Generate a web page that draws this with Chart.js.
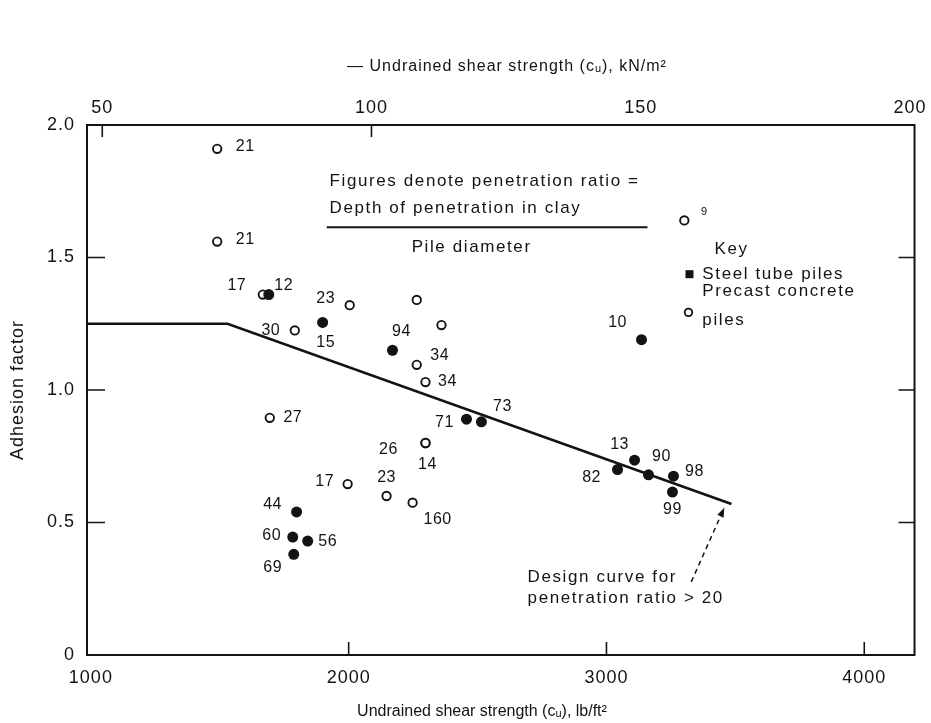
<!DOCTYPE html>
<html>
<head>
<meta charset="utf-8">
<script src="https://cdn.jsdelivr.net/npm/chart.js@4.4.1/dist/chart.umd.min.js"></script>
<style>
  html, body { margin: 0; padding: 0; background: #ffffff; }
  #wrap { width: 931px; height: 723px; }
</style>
</head>
<body>
<div id="wrap"><canvas id="c" width="931" height="723"></canvas></div>
<script>
// Adhesion factor against undrained shear strength for driven piles in clay.
// Steel tube piles (filled) and precast concrete piles (open), each tagged
// with its penetration ratio.

const steelX = [1690, 1899, 2170, 2457, 2515, 3136, 1798, 1783, 1841, 1787, 3043, 3109, 3163, 3260, 3256];
const steelY = [1.36, 1.255, 1.15, 0.89, 0.88, 1.19, 0.54, 0.445, 0.43, 0.38, 0.70, 0.735, 0.68, 0.675, 0.615];
const steelRatio = ['12', '15', '94', '71', '73', '10', '44', '60', '56', '69', '82', '13', '90', '98', '99'];

const precastX = [1490, 1490, 1667, 1791, 2004, 2264, 2360, 2264, 2298, 3302, 2298, 2298, 1996, 2147, 2248, 1694];
const precastY = [1.91, 1.56, 1.36, 1.225, 1.32, 1.34, 1.245, 1.095, 1.03, 1.64, 0.80, 0.80, 0.645, 0.60, 0.575, 0.895];
const precastRatio = ['21', '21', '17', '30', '23', '', '', '34', '34', '9', '26', '14', '17', '23', '160', '27'];

// Design curve for penetration ratio > 20
const curveX = [985, 1530, 3485];
const curveY = [1.25, 1.25, 0.57];

// Axis ticks
const lbTicks = [1000, 2000, 3000, 4000];
const knTicks = [50, 100, 150, 200];
const yTicks = [0, 0.5, 1.0, 1.5, 2.0];
const LB_PER_KN = 20.885;   // 1 kN/m² in lb/ft²
const X_MIN = 985, X_MAX = 4195;

// Where each ratio label sits relative to its marker (px)
const steelLabelShift = [[15,-9],[3,20],[9,-19],[-22,3],[21,-15],[-24,-17],[-24,-7],[-21,-1],[20,1],[-21,13],[-26,8],[-15,-16],[13,-18],[21,-5],[0,18]];
const precastLabelShift = [[28,-2],[28,-2],[-26,-9],[-24,0],[-24,-7],[0,0],[0,0],[23,-9],[22,0],[20,-8],[-37,7],[2,22],[-23,-2],[0,-18],[25,17],[23,0]];
const smallLabels = new Set(['9']);

const INK = '#131313';
const FONT = '"Liberation Sans", Arial, Helvetica, sans-serif';

const pts = (xs, ys) => xs.map((x, i) => ({ x: x, y: ys[i] }));

// slightly tracked lettering for the axis numbers
const tracking = {
  id: 'tracking',
  beforeDraw(chart) { chart.ctx.letterSpacing = '1px'; }
};

const ratioLabels = {
  id: 'ratioLabels',
  afterDatasetsDraw(chart) {
    const ctx = chart.ctx;
    ctx.save();
    ctx.letterSpacing = '0.5px';
    ctx.fillStyle = INK;
    ctx.textAlign = 'center';
    ctx.textBaseline = 'middle';
    const sets = [[1, steelRatio, steelLabelShift], [2, precastRatio, precastLabelShift]];
    sets.forEach(([di, labels, shifts]) => {
      const meta = chart.getDatasetMeta(di);
      meta.data.forEach((el, i) => {
        const t = labels[i];
        if (!t) return;
        ctx.font = (smallLabels.has(t) ? '11px ' : '16px ') + FONT;
        ctx.fillText(t, el.x + shifts[i][0], el.y + shifts[i][1]);
      });
    });
    ctx.restore();
  }
};

const frameAndNotes = {
  id: 'frameAndNotes',
  afterDraw(chart) {
    const ctx = chart.ctx;
    const xs = chart.scales.x, ys = chart.scales.y, ks = chart.scales.x2;
    const a = chart.chartArea;
    const P = (xv, yv) => [xs.getPixelForValue(xv), ys.getPixelForValue(yv)];
    ctx.save();
    ctx.strokeStyle = INK;
    ctx.fillStyle = INK;

    // frame
    ctx.lineWidth = 2;
    ctx.strokeRect(a.left, a.top, a.right - a.left, a.bottom - a.top);

    // inward tick marks
    ctx.lineWidth = 1.6;
    ctx.beginPath();
    lbTicks.slice(1).forEach(v => {
      const px = xs.getPixelForValue(v);
      ctx.moveTo(px, a.bottom); ctx.lineTo(px, a.bottom - 13);
    });
    knTicks.slice(0, 2).forEach(v => {
      const px = ks.getPixelForValue(v);
      ctx.moveTo(px, a.top); ctx.lineTo(px, a.top + 12);
    });
    yTicks.slice(1, 4).forEach(v => {
      const py = ys.getPixelForValue(v);
      ctx.moveTo(a.left, py); ctx.lineTo(a.left + 18, py);
      ctx.moveTo(a.right, py); ctx.lineTo(a.right - 16, py);
    });
    ctx.stroke();

    // axis titles
    ctx.textBaseline = 'middle';
    ctx.textAlign = 'center';
    ctx.font = '16px ' + FONT;
    ctx.letterSpacing = '0px';
    ctx.fillText('Undrained shear strength (cᵤ), lb/ft²', a.left + 395, a.bottom + 57);
    ctx.letterSpacing = '1px';
    ctx.fillText('— Undrained shear strength (cᵤ), kN/m²', a.left + 420, a.top - 58);
    ctx.save();
    ctx.font = '18px ' + FONT;
    ctx.translate(a.left - 69, (a.top + a.bottom) / 2);
    ctx.rotate(-Math.PI / 2);
    ctx.fillText('Adhesion factor', 0, 0);
    ctx.restore();

    // penetration ratio definition
    ctx.font = '17px ' + FONT;
    ctx.letterSpacing = '1.6px';
    ctx.textAlign = 'left';
    let p = P(1926, 1.788); ctx.fillText('Figures denote penetration ratio =', p[0], p[1]);
    p = P(1926, 1.686); ctx.fillText('Depth of penetration in clay', p[0], p[1]);
    const l0 = P(1915, 1.614), l1 = P(3159, 1.614);
    ctx.lineWidth = 2;
    ctx.beginPath(); ctx.moveTo(l0[0], l0[1]); ctx.lineTo(l1[0], l1[1]); ctx.stroke();
    ctx.textAlign = 'center';
    p = P(2477, 1.539); ctx.fillText('Pile diameter', p[0], p[1]);

    // key
    ctx.textAlign = 'left';
    p = P(3419, 1.531); ctx.fillText('Key', p[0], p[1]);
    p = P(3322, 1.437); ctx.fillRect(p[0] - 4, p[1] - 4, 8, 8);
    p = P(3372, 1.437); ctx.fillText('Steel tube piles', p[0], p[1]);
    p = P(3372, 1.372); ctx.fillText('Precast concrete', p[0], p[1]);
    p = P(3318, 1.293);
    ctx.lineWidth = 1.8;
    ctx.beginPath(); ctx.arc(p[0], p[1], 3.8, 0, Math.PI * 2); ctx.stroke();
    p = P(3372, 1.263); ctx.fillText('piles', p[0], p[1]);

    // design curve note with dashed arrow
    p = P(2694, 0.295); ctx.fillText('Design curve for', p[0], p[1]);
    p = P(2694, 0.215); ctx.fillText('penetration ratio > 20', p[0], p[1]);
    const s = P(3329, 0.276), e = P(3457, 0.556);
    ctx.lineWidth = 1.5;
    ctx.setLineDash([5, 4]);
    ctx.beginPath(); ctx.moveTo(s[0], s[1]); ctx.lineTo(e[0], e[1]); ctx.stroke();
    ctx.setLineDash([]);
    const ang = Math.atan2(e[1] - s[1], e[0] - s[0]);
    ctx.beginPath();
    ctx.moveTo(e[0], e[1]);
    ctx.lineTo(e[0] - 10 * Math.cos(ang - 0.35), e[1] - 10 * Math.sin(ang - 0.35));
    ctx.lineTo(e[0] - 10 * Math.cos(ang + 0.35), e[1] - 10 * Math.sin(ang + 0.35));
    ctx.closePath(); ctx.fill();
    ctx.restore();
  }
};

const tickFont = { family: FONT, size: 18 };

new Chart(document.getElementById('c'), {
  type: 'scatter',
  data: {
    datasets: [
      {
        label: 'Design curve',
        type: 'line',
        data: pts(curveX, curveY),
        borderColor: INK,
        borderWidth: 2.6,
        pointRadius: 0,
        tension: 0,
        fill: false,
        order: 3
      },
      {
        label: 'Steel tube piles',
        data: pts(steelX, steelY),
        pointStyle: 'circle',
        pointRadius: 5.5,
        backgroundColor: INK,
        borderColor: INK,
        borderWidth: 0,
        order: 1
      },
      {
        label: 'Precast concrete piles',
        data: pts(precastX, precastY),
        pointStyle: 'circle',
        pointRadius: 4.2,
        backgroundColor: '#ffffff',
        borderColor: INK,
        borderWidth: 1.9,
        order: 2
      }
    ]
  },
  options: {
    responsive: false,
    animation: false,
    devicePixelRatio: 1,
    layout: { padding: { left: 0, right: 16, top: 0, bottom: 0 } },
    plugins: { legend: { display: false }, tooltip: { enabled: false } },
    scales: {
      x: {
        type: 'linear',
        position: 'bottom',
        min: X_MIN,
        max: X_MAX,
        afterBuildTicks: sc => { sc.ticks = lbTicks.map(v => ({ value: v })); },
        afterFit: sc => { sc.height = 68; },
        grid: { display: false, drawTicks: false },
        border: { display: false },
        ticks: { padding: 12, color: INK, font: tickFont, autoSkip: false, maxRotation: 0, callback: v => String(v) },
        title: { display: false }
      },
      x2: {
        type: 'linear',
        position: 'top',
        min: X_MIN / LB_PER_KN,
        max: X_MAX / LB_PER_KN,
        afterBuildTicks: sc => { sc.ticks = knTicks.map(v => ({ value: v })); },
        afterFit: sc => { sc.height = 125; },
        grid: { display: false, drawTicks: false },
        border: { display: false },
        ticks: { padding: 6, color: INK, font: tickFont, autoSkip: false, maxRotation: 0, callback: v => String(v) },
        title: { display: false }
      },
      y: {
        type: 'linear',
        position: 'left',
        min: 0,
        max: 2,
        afterBuildTicks: sc => { sc.ticks = yTicks.map(v => ({ value: v })); },
        afterFit: sc => { sc.width = 87; },
        grid: { display: false, drawTicks: false },
        border: { display: false },
        ticks: { padding: 12, color: INK, font: tickFont, callback: v => (v === 0 ? '0' : v.toFixed(1)) },
        title: { display: false }
      }
    }
  },
  plugins: [tracking, ratioLabels, frameAndNotes]
});
</script>
</body>
</html>
